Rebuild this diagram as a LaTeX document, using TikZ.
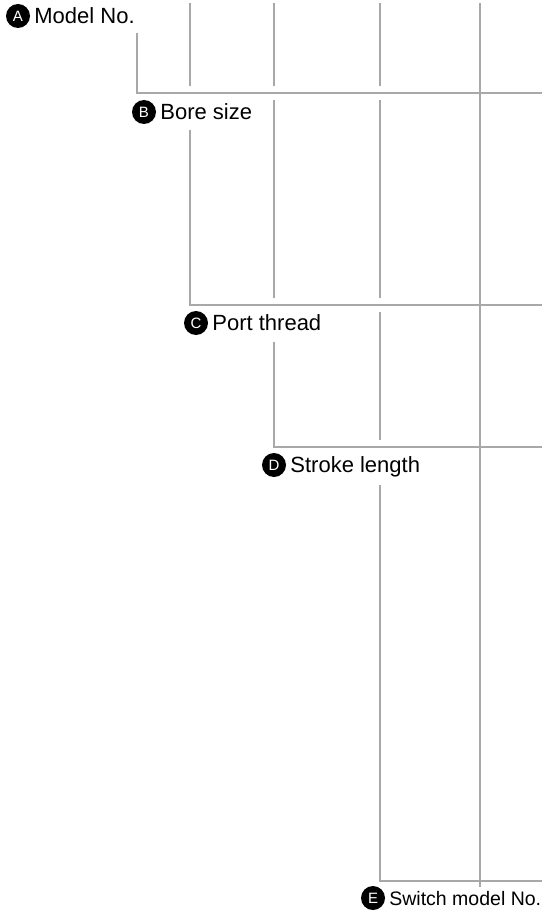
\documentclass[tikz,border=0pt]{standalone}
\usepackage{fontspec}
\setmainfont{Liberation Sans}
\usetikzlibrary{positioning,backgrounds}
\definecolor{guidegray}{RGB}{168,168,168}

\begin{document}
\begin{tikzpicture}[x=1pt, y=-1pt, node distance=4pt]
        \tikzstyle{badge}=[circle, fill=black, text=white, inner sep=0pt, minimum size=24pt, font=\fontsize{15}{15}\selectfont]
        \tikzstyle{caption}=[inner sep=0pt, text height=20pt, text depth=4.25pt, font=\fontsize{22}{26}\selectfont]
        \tikzstyle{guide}=[draw=guidegray, line width=2.6pt]
        \tikzstyle{bridge}=[preaction={draw=white, line width=14pt}]

        \useasboundingbox (0,0) rectangle (542,912);

        \node[badge] (bA) at (18,16) {A};
        \node[caption, right=4pt of bA] (model) {Model No.};
        \node[badge] (bB) at (144,112) {B};
        \node[caption, right=4pt of bB] (bore) {Bore size};
        \node[badge] (bC) at (196,323) {C};
        \node[caption, right=4pt of bC] (port) {Port thread};
        \node[badge] (bD) at (274,465) {D};
        \node[caption, right=4pt of bD] (stroke) {Stroke length};
        \node[badge] (bE) at (373,898) {E};
        \node[caption, right=4pt of bE, text height=18pt, text depth=4pt, font=\fontsize{19.5}{23}\selectfont] (switch) {Switch model No.};

        \coordinate (tB) at (190,3);
        \coordinate (tC) at (274,3);
        \coordinate (tD) at (380,3);
        \coordinate (tE) at (480,3);
        \coordinate (oA) at (137,33);
        \coordinate (oB) at (190,130);
        \coordinate (oC) at (274,342);
        \coordinate (oD) at (380,485);
        \coordinate (rA) at (542,93);
        \coordinate (rB) at (542,305);
        \coordinate (rC) at (542,447);
        \coordinate (rD) at (542,881);

        \begin{scope}[on background layer]
        \draw[guide] (tB) -- (tB |- bore.north);
        \draw[guide] (tC) -- (tC |- port.north);
        \draw[guide] (tD) -- (tD |- stroke.north);

        \draw[guide, bridge] (oA) |- (rA);
        \draw[guide, bridge] (oB) |- (rB);
        \draw[guide, bridge] (oC) |- (rC);
        \draw[guide, bridge] (oD) |- (rD);

        \draw[guide] (tE) -- (tE |- switch.north);
        \end{scope}
\end{tikzpicture}
\end{document}
